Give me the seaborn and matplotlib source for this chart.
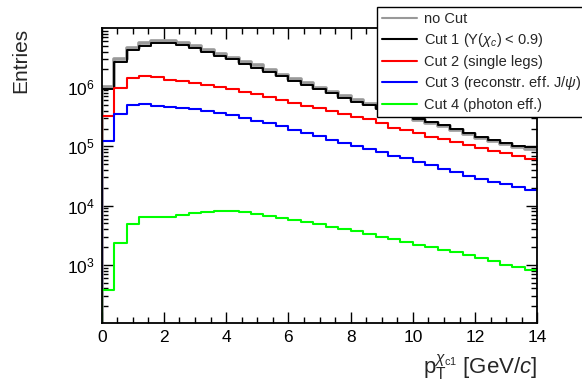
import numpy as np
import pandas as pd
import matplotlib
matplotlib.use("Agg")
import matplotlib.pyplot as plt
import seaborn as sns
from matplotlib.ticker import MultipleLocator, LogLocator, FixedLocator, NullFormatter

# ---------------- data ----------------
bin_width = 0.4
x_min, x_max = 0.0, 14.0
edges = np.arange(x_min, x_max + bin_width / 2, bin_width)
centers = edges[:-1] + bin_width / 2

labels = ["no Cut",
          r"Cut 1 (Y($\chi_{c}$) < 0.9)",
          "Cut 2 (single legs)",
          r"Cut 3 (reconstr. eff. J/$\psi$)",
          "Cut 4 (photon eff.)"]

no_cut = [1.0e6, 3.0e6, 4.6e6, 5.56e6, 6.15e6, 6.1e6, 5.56e6, 4.94e6, 4.28e6, 3.63e6,
          3.17e6, 2.7e6, 2.33e6, 1.95e6, 1.64e6, 1.39e6, 1.17e6, 9.9e5, 8.46e5, 7.16e5,
          6.12e5, 5.25e5, 4.45e5, 3.8e5, 3.25e5, 2.85e5, 2.5e5, 2.2e5, 1.88e5, 1.63e5,
          1.4e5, 1.22e5, 1.08e5, 9.7e4, 9.2e4]
cut1 = [0.93e6, 2.7e6, 4.2e6, 5.07e6, 5.56e6, 5.5e6, 5.15e6, 4.6e6, 3.96e6, 3.4e6,
        2.96e6, 2.5e6, 2.15e6, 1.8e6, 1.52e6, 1.28e6, 1.08e6, 9.3e5, 7.94e5, 6.7e5,
        5.74e5, 4.98e5, 4.3e5, 3.75e5, 3.25e5, 2.9e5, 2.6e5, 2.32e5, 1.98e5, 1.72e5,
        1.47e5, 1.29e5, 1.14e5, 1.02e5, 9.7e4]
cut2 = [3.33e5, 9.67e5, 1.46e6, 1.56e6, 1.48e6, 1.35e6, 1.27e6, 1.17e6, 1.08e6, 1.02e6,
        9.4e5, 8.46e5, 7.63e5, 6.88e5, 6.12e5, 5.52e5, 4.91e5, 4.44e5, 3.99e5, 3.55e5,
        3.2e5, 2.89e5, 2.45e5, 2.08e5, 1.86e5, 1.68e5, 1.47e5, 1.34e5, 1.21e5, 1.06e5,
        9.58e4, 8.53e4, 7.7e4, 6.93e4, 6.1e4]
cut3 = [1.26e5, 3.55e5, 4.99e5, 5.19e5, 4.86e5, 4.67e5, 4.54e5, 4.32e5, 4.04e5, 3.74e5,
        3.42e5, 3.08e5, 2.74e5, 2.48e5, 2.2e5, 1.91e5, 1.72e5, 1.51e5, 1.31e5, 1.16e5,
        1.01e5, 9.0e4, 8.0e4, 6.93e4, 6.34e4, 5.56e4, 4.89e4, 4.24e4, 3.72e4, 3.23e4,
        2.84e4, 2.55e4, 2.31e4, 2.08e4, 1.87e4]
cut4 = [374, 2.32e3, 4.99e3, 6.47e3, 6.47e3, 6.55e3, 7.08e3, 7.47e3, 7.95e3, 8.07e3,
        8.07e3, 7.76e3, 7.27e3, 6.8e3, 6.3e3, 5.82e3, 5.39e3, 4.87e3, 4.43e3, 4.1e3,
        3.71e3, 3.3e3, 2.97e3, 2.72e3, 2.42e3, 2.15e3, 2.01e3, 1.75e3, 1.62e3, 1.46e3,
        1.3e3, 1.18e3, 989, 936, 813]

series = [no_cut, cut1, cut2, cut3, cut4]
colors = ["#999999", "#000000", "#ff0000", "#0000ff", "#00ff00"]
widths = [2.6, 1.4, 1.5, 1.5, 1.5]

x_ticks = [0, 2, 4, 6, 8, 10, 12, 14]
y_ticks = [1e3, 1e4, 1e5, 1e6]
y_lim = (1.03e2, 9.9e6)

# ---------------- style ----------------
sns.set_style("ticks")
plt.rcParams["font.family"] = ["Liberation Sans", "DejaVu Sans"]
plt.rcParams["mathtext.fontset"] = "custom"
plt.rcParams["mathtext.rm"] = "Liberation Sans"
plt.rcParams["mathtext.it"] = "Liberation Sans:italic"
plt.rcParams["mathtext.bf"] = "Liberation Sans:bold"

fig = plt.figure(figsize=(5.82, 3.88), dpi=100)
ax = fig.add_axes([101.7 / 582, 1 - 323.3 / 388, (537.3 - 101.7) / 582, (323.3 - 28.3) / 388])

for vals, col, lw, lab in zip(series, colors, widths, labels):
    df = pd.DataFrame({"pt": centers, "n": np.asarray(vals, dtype=float)})
    sns.histplot(data=df, x="pt", weights="n", binwidth=bin_width,
                 binrange=(x_min, x_max), element="step",
                 fill=False, color=col, linewidth=lw, ax=ax)
    ax.vlines(edges[0], y_lim[0], vals[0], color=col, linewidth=lw)

ax.set_yscale("log")
ax.set_xlim(x_min, x_max)
ax.set_ylim(*y_lim)

ax.xaxis.set_major_locator(FixedLocator(x_ticks))
ax.xaxis.set_minor_locator(MultipleLocator(0.5))
ax.yaxis.set_major_locator(FixedLocator(y_ticks))
ax.yaxis.set_minor_locator(LogLocator(base=10, subs=np.arange(2, 10)))
ax.yaxis.set_minor_formatter(NullFormatter())
ax.set_yticklabels([r"$10^{%d}$" % int(np.log10(v)) for v in y_ticks])

ax.tick_params(which="both", direction="in", top=True, right=True, colors="black",
               labelsize=12.5, width=1.0)
ax.tick_params(which="major", length=8, pad=5)
ax.tick_params(which="minor", length=4)
for s in ax.spines.values():
    s.set_linewidth(1.3)
    s.set_color("black")

ax.set_xlabel(r"$\mathrm{p}_{\mathrm{T}}^{\chi_{\mathrm{c1}}}$ [GeV/$c$]", fontsize=16, loc="right")
ax.xaxis.set_label_coords(1.0, -0.1)
ax.set_ylabel("Entries", fontsize=15, loc="top")
ax.yaxis.set_label_coords(-0.165, 1.0)

handles = [plt.Line2D([], [], color=c, linewidth=1.5) for c in colors]
leg = ax.legend(handles, labels, loc="upper left",
                bbox_to_anchor=(377 / 582, 1 - 6.7 / 388), bbox_transform=fig.transFigure,
                borderaxespad=0, fontsize=10.5, frameon=True, fancybox=False,
                edgecolor="black", framealpha=1, handlelength=2.4, handletextpad=0.5,
                labelspacing=0.38, borderpad=0.35)
leg.get_frame().set_linewidth(1.0)

fig.savefig("out.png", dpi=100)
